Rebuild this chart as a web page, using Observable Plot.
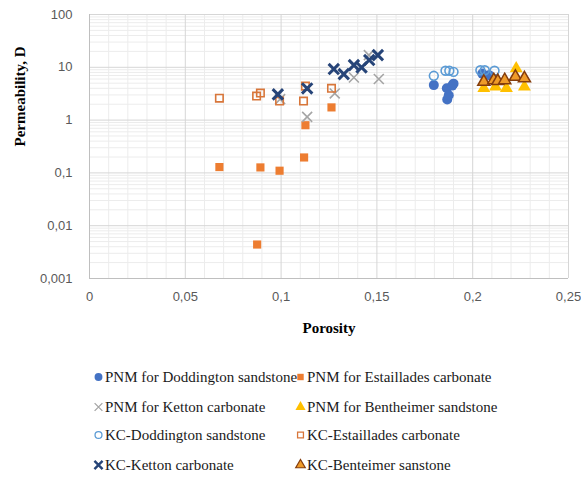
<!DOCTYPE html>
<html><head><meta charset="utf-8">
<script src="https://cdn.jsdelivr.net/npm/d3@7"></script>
<script src="https://cdn.jsdelivr.net/npm/@observablehq/plot@0.6"></script>
<style>
body{margin:0;background:#fff;}
#chart{width:581px;position:relative;}
.legend{position:relative;width:581px;height:127px;font-family:"Liberation Serif","Times New Roman",serif;font-size:15px;color:#1a1a1a;}
.item{position:absolute;height:20px;display:flex;align-items:center;white-space:nowrap;}
.item svg{flex:none;}
</style></head><body><div id="chart"></div><script>
// ---- data ----
const pnmDoddPor  = [0.1797, 0.1865, 0.1893, 0.1900, 0.1867, 0.1875, 0.2050, 0.2085];
const pnmDoddPerm = [4.6, 4.0, 4.5, 4.9, 2.45, 2.95, 7.6, 7.1];

const pnmEstPor  = [0.0678, 0.0875, 0.0892, 0.0992, 0.1120, 0.1127, 0.1263];
const pnmEstPerm = [0.129, 0.0044, 0.127, 0.110, 0.196, 0.80, 1.74];

const pnmKetPor  = [0.0995, 0.1136, 0.1280, 0.1380, 0.1458, 0.1510];
const pnmKetPerm = [2.5, 1.15, 3.2, 6.4, 17.0, 6.0];

const pnmBenPor  = [0.2058, 0.2119, 0.2176, 0.2227, 0.2270];
const pnmBenPerm = [4.0, 4.3, 4.0, 9.5, 4.3];

const kcDoddPor  = [0.1797, 0.1858, 0.1878, 0.1900, 0.2040, 0.2063, 0.2114];
const kcDoddPerm = [6.9, 8.6, 8.6, 8.2, 8.8, 8.8, 8.6];

const kcEstPor  = [0.0678, 0.0872, 0.0892, 0.0992, 0.1117, 0.1127, 0.1263];
const kcEstPerm = [2.6, 2.85, 3.25, 2.29, 2.29, 4.4, 4.0];

const kcKetPor  = [0.0983, 0.1136, 0.1275, 0.1327, 0.1380, 0.1420, 0.1460, 0.1505];
const kcKetPerm = [3.07, 3.98, 9.25, 7.43, 11.0, 9.95, 13.7, 17.0];

const kcBenPor  = [0.2058, 0.2110, 0.2131, 0.2167, 0.2223, 0.2270];
const kcBenPerm = [5.3, 5.7, 5.5, 5.7, 6.6, 6.2];

const seriesNames = [
  "PNM for Doddington sandstone", "PNM for Estaillades carbonate",
  "PNM for Ketton carbonate", "PNM for Bentheimer sandstone",
  "KC-Doddington sandstone", "KC-Estaillades carbonate",
  "KC-Ketton carbonate", "KC-Benteimer sanstone"
];

const xTicks = [0, 0.05, 0.1, 0.15, 0.2, 0.25];
const yTicks = [0.001, 0.01, 0.1, 1, 10, 100];
const xLabel = "Porosity";
const yLabel = "Permeability, D";

// ---- helpers ----
const pts = (por, perm) => por.map((p, i) => ({p, k: perm[i]}));
const fmt = d => String(d).replace(".", ",");
const minorX = d3.range(1, 25).map(i => i / 100).filter(v => Math.abs(v * 20 - Math.round(v * 20)) > 1e-9);
const minorY = [];
for (let e = -3; e < 2; e++) for (let m = 2; m <= 9; m++) minorY.push(m * Math.pow(10, e));

const styles = [
  {symbol: "circle",   r: 5,   fill: "#4472C4"},
  {symbol: "square",   r: 4.6, fill: "#ED7D31"},
  {symbol: "times",    r: 4.6, fill: "none", stroke: "#A5A5A5", strokeWidth: 1.6},
  {symbol: "triangle", r: 4.8, fill: "#FFC000"},
  {symbol: "circle",   r: 4.4, fill: "none", stroke: "#5B9BD5", strokeWidth: 1.6},
  {symbol: "square",   r: 4.2, fill: "none", stroke: "#D8763A", strokeWidth: 1.6},
  {symbol: "times",    r: 4.8, fill: "none", stroke: "#264478", strokeWidth: 3},
  {symbol: "triangle", r: 4.5, fill: "#EF9B29", stroke: "#843C0C", strokeWidth: 1.5}
];
const series = [
  pts(pnmDoddPor, pnmDoddPerm), pts(pnmEstPor, pnmEstPerm),
  pts(pnmKetPor, pnmKetPerm), pts(pnmBenPor, pnmBenPerm),
  pts(kcDoddPor, kcDoddPerm), pts(kcEstPor, kcEstPerm),
  pts(kcKetPor, kcKetPerm), pts(kcBenPor, kcBenPerm)
];

const chart = Plot.plot({
  width: 581, height: 350,
  marginLeft: 89, marginRight: 13, marginTop: 14, marginBottom: 72,
  x: {domain: [0, 0.25]},
  y: {type: "log", domain: [0.001, 100]},
  style: {fontFamily: "'Liberation Sans', Arial, sans-serif", fontSize: "13px", color: "#595959", background: "#fff"},
  marks: [
    Plot.gridX(minorX, {stroke: "#ececec", strokeOpacity: 1}),
    Plot.gridY(minorY, {stroke: "#ececec", strokeOpacity: 1}),
    Plot.gridX(xTicks, {stroke: "#d6d6d6", strokeOpacity: 1}),
    Plot.gridY(yTicks, {stroke: "#d6d6d6", strokeOpacity: 1}),
    Plot.ruleX([0], {stroke: "#bfbfbf"}),
    Plot.ruleY([0.001], {stroke: "#bfbfbf"}),
    Plot.axisX(xTicks, {tickSize: 0, tickPadding: 13, tickFormat: fmt, label: null, fill: "#595959"}),
    Plot.axisY(yTicks, {tickSize: 0, tickPadding: 17, tickFormat: fmt, label: null, fill: "#595959"}),
    ...series.map((data, i) => Plot.dot(data, {x: "p", y: "k", ...styles[i]})),
    Plot.text([yLabel], {text: d => d, frameAnchor: "left", dx: -69, rotate: -90,
      fontFamily: "'Liberation Serif', 'Times New Roman', serif", fontWeight: "bold", fontSize: 15, fill: "#000"}),
    Plot.text([xLabel], {text: d => d, frameAnchor: "bottom", dy: 50, lineAnchor: "middle",
      fontFamily: "'Liberation Serif', 'Times New Roman', serif", fontWeight: "bold", fontSize: 15, fill: "#000"})
  ]
});
document.getElementById("chart").appendChild(chart);

// ---- legend ----
const legend = document.createElement("div");
legend.className = "legend";
const rowCenters = [27, 57, 85, 115];
const colX = [92, 294];
seriesNames.forEach((name, i) => {
  const st = styles[i];
  const item = document.createElement("div");
  item.className = "item";
  item.style.left = colX[i % 2] + "px";
  item.style.top = (rowCenters[Math.floor(i / 2)] - 10) + "px";
  const sym = d3.symbol(
    {circle: d3.symbolCircle, square: d3.symbolSquare, times: d3.symbolTimes, triangle: d3.symbolTriangle}[st.symbol],
    Math.PI * st.r * st.r * 0.62)();
  item.innerHTML = `<svg width="13" height="20" viewBox="-6.5 -10 13 20"><path d="${sym}" fill="${st.fill}" stroke="${st.stroke || "none"}" stroke-width="${(st.strokeWidth || 0) * 0.8}"/></svg><span>${name}</span>`;
  legend.appendChild(item);
});
document.getElementById("chart").appendChild(legend);
</script></body></html>
